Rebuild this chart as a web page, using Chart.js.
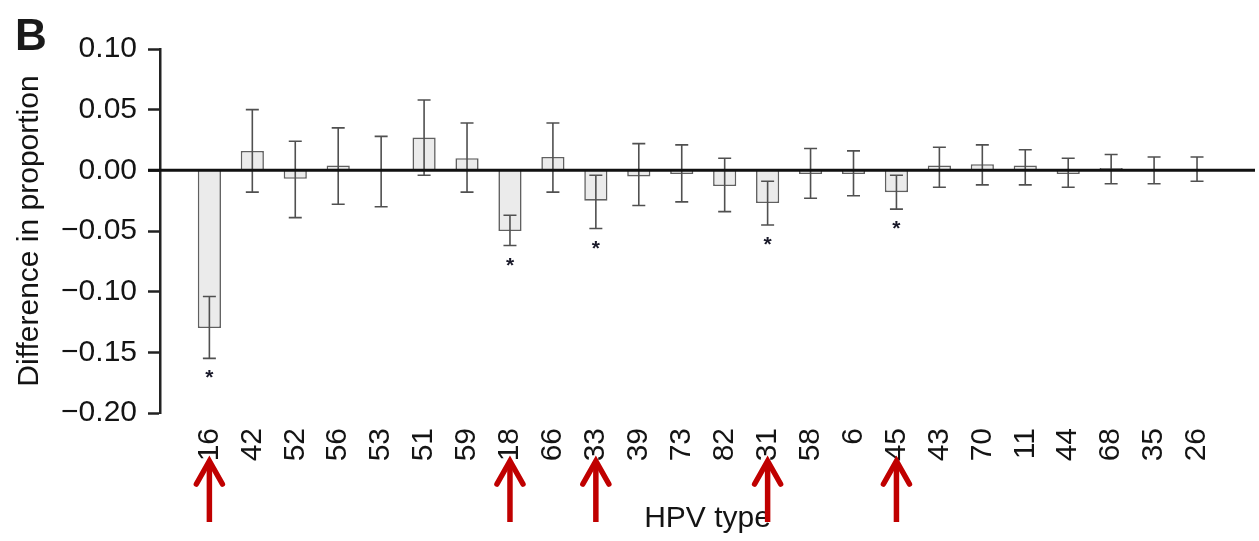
<!DOCTYPE html>
<html>
<head>
<meta charset="utf-8">
<script src="https://cdn.jsdelivr.net/npm/chart.js@4.4.0/dist/chart.umd.min.js"></script>
<style>
  html, body { margin: 0; padding: 0; background: #ffffff; }
  #c { display: block; }
</style>
</head>
<body>
<canvas id="c" width="1259" height="541"></canvas>
<script>
// ---- data ----
const categories = ['16','42','52','56','53','51','59','18','66','33','39','73','82','31','58','6','45','43','70','11','44','68','35','26'];
const diffValues = [-0.130, 0.016, -0.007, 0.004, 0.000, 0.027, 0.010, -0.050, 0.011, -0.025, -0.005, -0.003, -0.013, -0.027, -0.003, -0.003, -0.018, 0.004, 0.005, 0.004, -0.003, 0.002, 0.000, 0.000];
const errUpper = [-0.104, 0.050, 0.024, 0.035, 0.028, 0.058, 0.039, -0.037, 0.039, -0.004, 0.022, 0.021, 0.010, -0.009, 0.018, 0.016, -0.004, 0.019, 0.021, 0.017, 0.010, 0.013, 0.011, 0.011];
const errLower = [-0.155, -0.018, -0.039, -0.028, -0.030, -0.004, -0.018, -0.062, -0.018, -0.048, -0.029, -0.026, -0.034, -0.045, -0.023, -0.021, -0.032, -0.014, -0.012, -0.012, -0.014, -0.011, -0.011, -0.009];
const starredTypes = ['16','18','33','31','45'];
const arrowedTypes = ['16','18','33','31','45'];
const yTickValues = [0.10, 0.05, 0.00, -0.05, -0.10, -0.15, -0.20];
const panelLetter = 'B';
const yTitle = 'Difference in proportion';
const xTitle = 'HPV type';

const FONT = '"Liberation Sans", Arial, Helvetica, sans-serif';
const TEXT = '#141414';

function fmt(v) {
  const s = Math.abs(v).toFixed(2);
  return (v < -1e-9 ? '\u2212' : '') + s;
}

const overlay = {
  id: 'overlay',
  afterDatasetsDraw(chart) {
    const ctx = chart.ctx;
    const xs = chart.scales.x, ys = chart.scales.y;
    ctx.save();
    // error bars
    ctx.strokeStyle = '#505050';
    ctx.lineWidth = 1.6;
    const cap = 6.5;
    categories.forEach((c, i) => {
      const x = xs.getPixelForValue(i);
      const yH = ys.getPixelForValue(errUpper[i]);
      const yL = ys.getPixelForValue(errLower[i]);
      ctx.beginPath();
      ctx.moveTo(x, yH); ctx.lineTo(x, yL);
      ctx.moveTo(x - cap, yH); ctx.lineTo(x + cap, yH);
      ctx.moveTo(x - cap, yL); ctx.lineTo(x + cap, yL);
      ctx.stroke();
    });
    // zero line
    const y0 = ys.getPixelForValue(0);
    ctx.strokeStyle = '#111111';
    ctx.lineWidth = 3;
    ctx.beginPath();
    ctx.moveTo(chart.chartArea.left - 12, y0);
    ctx.lineTo(chart.chartArea.right, y0);
    ctx.stroke();
    // significance stars
    ctx.fillStyle = '#1a1a2a';
    ctx.font = 'bold 21px ' + FONT;
    ctx.textAlign = 'center';
    ctx.textBaseline = 'alphabetic';
    starredTypes.forEach(t => {
      const i = categories.indexOf(t);
      const x = xs.getPixelForValue(i);
      const yL = ys.getPixelForValue(errLower[i]);
      ctx.fillText('*', x, yL + 14 + 12);
    });
    ctx.restore();
  },
  afterDraw(chart) {
    const ctx = chart.ctx;
    const xs = chart.scales.x;
    ctx.save();
    // panel letter
    ctx.fillStyle = '#1a1a1a';
    ctx.font = 'bold 44px ' + FONT;
    ctx.textAlign = 'left';
    ctx.textBaseline = 'alphabetic';
    ctx.fillText(panelLetter, 15, 50);
    // red arrows
    ctx.strokeStyle = '#c00000';
    ctx.lineWidth = 5.5;
    arrowedTypes.forEach(t => {
      const i = categories.indexOf(t);
      const x = xs.getPixelForValue(i);
      const tip = 461, base = 522;
      ctx.lineCap = 'butt';
      ctx.beginPath();
      ctx.moveTo(x, base); ctx.lineTo(x, tip + 3);
      ctx.stroke();
      ctx.lineCap = 'round';
      ctx.lineJoin = 'miter';
      ctx.beginPath();
      ctx.moveTo(x - 13, tip + 23);
      ctx.lineTo(x, tip);
      ctx.lineTo(x + 13, tip + 23);
      ctx.stroke();
    });
    ctx.restore();
  }
};

new Chart(document.getElementById('c'), {
  type: 'bar',
  data: {
    datasets: [{
      data: diffValues.map((v, i) => ({ x: i, y: v })),
      backgroundColor: '#ebebeb',
      borderColor: '#606060',
      borderWidth: 1.6,
      barPercentage: 0.54,
      categoryPercentage: 1.0
    }]
  },
  options: {
    responsive: false,
    animation: false,
    devicePixelRatio: 1,
    layout: { padding: { left: 0, right: 4, top: 49, bottom: 0 } },
    plugins: { legend: { display: false }, tooltip: { enabled: false } },
    scales: {
      x: {
        type: 'linear',
        offset: false,
        min: -1.15,
        max: 24.35,
        grid: { display: false, drawTicks: false, tickLength: 0, offset: false },
        border: { display: false },
        afterBuildTicks: (axis) => { axis.ticks = categories.map((c, i) => ({ value: i })); },
        afterFit: (axis) => { axis.height = 128; },
        ticks: {
          autoSkip: false,
          maxRotation: 90,
          minRotation: 90,
          padding: 15,
          color: TEXT,
          font: { family: FONT, size: 30 },
          callback: (v) => categories[Math.round(v)] ?? ''
        },
        title: {
          display: true,
          text: xTitle,
          color: TEXT,
          font: { family: FONT, size: 30 },
          padding: { top: 0, bottom: 4 }
        }
      },
      y: {
        min: -0.20,
        max: 0.10,
        afterBuildTicks: (axis) => { axis.ticks = yTickValues.map(v => ({ value: v })); },
        afterFit: (axis) => { axis.width = 160; },
        grid: {
          display: true,
          drawOnChartArea: false,
          drawTicks: true,
          tickLength: 12,
          tickColor: '#222222',
          tickWidth: 2.5
        },
        border: { display: true, color: '#222222', width: 2.5 },
        ticks: {
          padding: 11,
          color: TEXT,
          font: { family: FONT, size: 30 },
          callback: (v) => fmt(v)
        },
        title: {
          display: true,
          text: yTitle,
          color: TEXT,
          font: { family: FONT, size: 30 },
          padding: { top: 12, bottom: 0 }
        }
      }
    }
  },
  plugins: [overlay]
});
</script>
</body>
</html>
